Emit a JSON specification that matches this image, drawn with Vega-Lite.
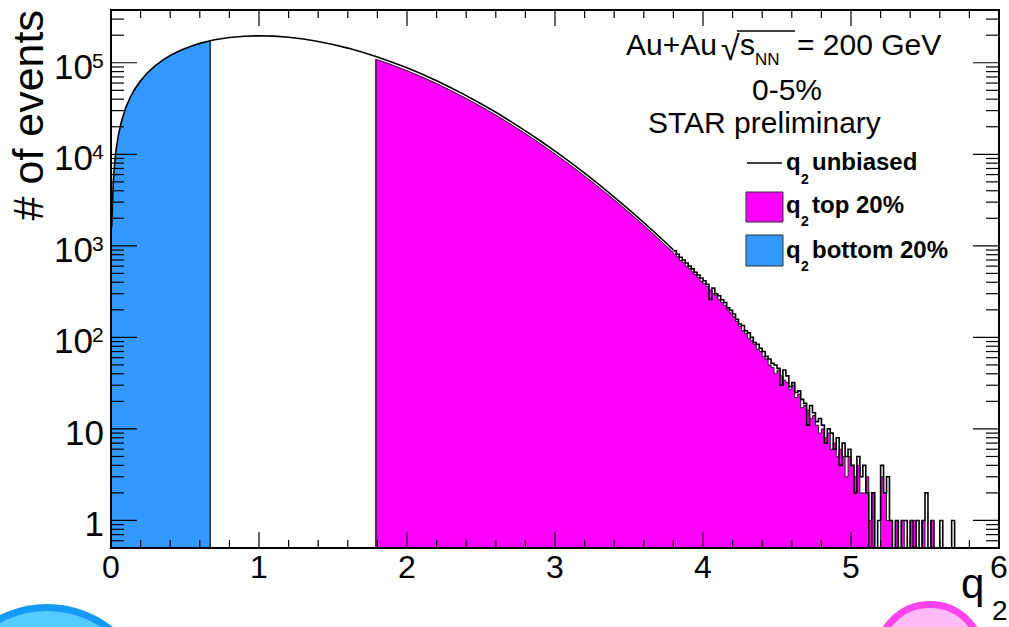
{
"$schema": "https://vega.github.io/schema/vega-lite/v6.json",
"width": 888, "height": 538,
"autosize": {"type": "none"},
"padding": {"left": 111, "top": 10, "right": 10, "bottom": 79},
"background": "white",
"config": {"view": {"stroke": null}, "font": "Liberation Sans", "text": {"font": "Liberation Sans", "color": "black"}, "tick": {"opacity": 1}},
"datasets": {
"curve": [
{"x":0,"u":1625,"b":1625},{"x":0.005,"u":1625,"b":1625},{"x":0.015,"u":4875,"b":4875},{"x":0.025,"u":8124,"b":8124},{"x":0.035,"u":11370,"b":11370},{"x":0.05,"u":16230,"b":16230},{"x":0.07,"u":22690,"b":22690},{"x":0.1,"u":32340,"b":32340},{"x":0.13,"u":41900,"b":41900},{"x":0.16,"u":51340,"b":51340},{"x":0.2,"u":63710,"b":63710},{"x":0.25,"u":78750,"b":78750},{"x":0.3,"u":93210,"b":93210},{"x":0.35,"u":106990,"b":106990},{"x":0.4,"u":120000,"b":120000},{"x":0.45,"u":132170,"b":132170},{"x":0.5,"u":143400,"b":143400},{"x":0.55,"u":153660,"b":153660},{"x":0.6,"u":162880,"b":162880},{"x":0.65,"u":171020,"b":171020},{"x":0.67,"u":173950,"b":173950},
{"x":0.7,"u":178070},{"x":0.8,"u":188800},{"x":0.9,"u":195090},{"x":1.0,"u":197120},{"x":1.1,"u":195220},{"x":1.2,"u":189830},{"x":1.3,"u":181490},{"x":1.4,"u":170770},{"x":1.5,"u":158270},{"x":1.6,"u":144580},{"x":1.7,"u":130250},
{"x":1.79,"u":117220,"t":109000},{"x":1.8,"u":115770,"t":107670},{"x":1.9,"u":101560,"t":94450},{"x":2.0,"u":87970,"t":81810},{"x":2.1,"u":75250,"t":69980},{"x":2.2,"u":63580,"t":59130},{"x":2.3,"u":53070,"t":49350},{"x":2.4,"u":43790,"t":40720},{"x":2.5,"u":35700,"t":33200},{"x":2.6,"u":28770,"t":26760},{"x":2.7,"u":22920,"t":21320},{"x":2.8,"u":18055,"t":16790},{"x":2.9,"u":14060,"t":13080},{"x":3.0,"u":10830,"t":10070},{"x":3.1,"u":8250,"t":7670},{"x":3.2,"u":6215,"t":5780},{"x":3.3,"u":4630,"t":4306},{"x":3.4,"u":3413,"t":3174},{"x":3.5,"u":2488,"t":2314},{"x":3.6,"u":1795,"t":1670},{"x":3.7,"u":1280,"t":1190},{"x":3.8,"u":904,"t":840}
],
"tail": [
{"x":3.8,"u":880,"t":815},{"x":3.82,"u":810,"t":760},{"x":3.84,"u":750,"t":690},{"x":3.86,"u":700,"t":655},{"x":3.88,"u":650,"t":600},{"x":3.9,"u":600,"t":565},{"x":3.92,"u":560,"t":520},{"x":3.94,"u":515,"t":485},{"x":3.96,"u":480,"t":450},{"x":3.98,"u":445,"t":410},
{"x":4.0,"u":415,"t":385},{"x":4.02,"u":380,"t":360},{"x":4.04,"u":260,"t":330},{"x":4.06,"u":345,"t":300},{"x":4.08,"u":300,"t":285},{"x":4.1,"u":285,"t":260},{"x":4.12,"u":258,"t":240},{"x":4.14,"u":240,"t":222},{"x":4.16,"u":210,"t":200},{"x":4.18,"u":198,"t":185},
{"x":4.2,"u":180,"t":168},{"x":4.22,"u":158,"t":150},{"x":4.24,"u":140,"t":132},{"x":4.26,"u":135,"t":118},{"x":4.28,"u":118,"t":110},{"x":4.3,"u":112,"t":98},{"x":4.32,"u":100,"t":92},{"x":4.34,"u":88,"t":84},{"x":4.36,"u":84,"t":74},{"x":4.38,"u":76,"t":70},
{"x":4.4,"u":70,"t":62},{"x":4.42,"u":62,"t":58},{"x":4.44,"u":58,"t":50},{"x":4.46,"u":52,"t":47},{"x":4.48,"u":50,"t":40},{"x":4.5,"u":46,"t":44},{"x":4.52,"u":30,"t":38},{"x":4.54,"u":44,"t":34},{"x":4.56,"u":38,"t":32},{"x":4.58,"u":29,"t":27},
{"x":4.6,"u":32,"t":30},{"x":4.62,"u":25,"t":22},{"x":4.64,"u":26,"t":24},{"x":4.66,"u":21,"t":17},{"x":4.68,"u":19,"t":18},{"x":4.7,"u":11,"t":16},{"x":4.72,"u":18,"t":13},{"x":4.74,"u":15,"t":14},{"x":4.76,"u":12,"t":11},{"x":4.78,"u":13,"t":9},
{"x":4.8,"u":11,"t":10},{"x":4.82,"u":7,"t":8},{"x":4.84,"u":10,"t":9},{"x":4.86,"u":9,"t":6},{"x":4.88,"u":6,"t":7},{"x":4.9,"u":8,"t":5},{"x":4.92,"u":4,"t":6},{"x":4.94,"u":7,"t":5},{"x":4.96,"u":5,"t":3},{"x":4.98,"u":6,"t":5},
{"x":5.0,"u":4,"t":4},{"x":5.02,"u":2,"t":3},{"x":5.04,"u":5,"t":4},{"x":5.06,"u":3,"t":2},{"x":5.08,"u":4,"t":2},{"x":5.1,"u":2,"t":3},{"x":5.12,"u":0,"t":1},{"x":5.14,"u":2,"t":2},{"x":5.16,"u":0,"t":0},{"x":5.18,"u":1,"t":0},
{"x":5.2,"u":4,"t":3},{"x":5.22,"u":2,"t":2},{"x":5.24,"u":3,"t":1},{"x":5.26,"u":1,"t":1},{"x":5.28,"u":0,"t":0},{"x":5.3,"u":1,"t":1},{"x":5.32,"u":0,"t":0},{"x":5.34,"u":1,"t":1},{"x":5.36,"u":1,"t":0},{"x":5.38,"u":0,"t":0},
{"x":5.4,"u":1,"t":1},{"x":5.42,"u":0,"t":1},{"x":5.44,"u":1,"t":0},{"x":5.46,"u":0,"t":0},{"x":5.48,"u":1,"t":1},{"x":5.5,"u":2,"t":0},{"x":5.52,"u":0,"t":0},{"x":5.54,"u":1,"t":1},{"x":5.56,"u":0,"t":0},{"x":5.58,"u":0,"t":0},
{"x":5.6,"u":1,"t":0},{"x":5.62,"u":0,"t":0},{"x":5.64,"u":0,"t":0},{"x":5.66,"u":0,"t":0},{"x":5.68,"u":1,"t":0},{"x":5.7,"u":0,"t":0},{"x":5.72,"u":0,"t":0}
],
"ypow": [{"v":100000,"e":"5"},{"v":10000,"e":"4"},{"v":1000,"e":"3"},{"v":100,"e":"2"}],
"yplain": [{"v":10},{"v":1}],
"xlab": [{"v":0},{"v":1},{"v":2},{"v":3},{"v":4},{"v":5},{"v":6}],
"ymaj": [{"v":1},{"v":10},{"v":100},{"v":1000},{"v":10000},{"v":100000}],
"ymin": [{"v":0.6},{"v":0.7},{"v":0.8},{"v":0.9},{"v":2},{"v":3},{"v":4},{"v":5},{"v":6},{"v":7},{"v":8},{"v":9},{"v":20},{"v":30},{"v":40},{"v":50},{"v":60},{"v":70},{"v":80},{"v":90},{"v":200},{"v":300},{"v":400},{"v":500},{"v":600},{"v":700},{"v":800},{"v":900},{"v":2000},{"v":3000},{"v":4000},{"v":5000},{"v":6000},{"v":7000},{"v":8000},{"v":9000},{"v":20000},{"v":30000},{"v":40000},{"v":50000},{"v":60000},{"v":70000},{"v":80000},{"v":90000},{"v":200000},{"v":300000}],
"xmin": [{"v":0.2},{"v":0.4},{"v":0.6},{"v":0.8},{"v":1.2},{"v":1.4},{"v":1.6},{"v":1.8},{"v":2.2},{"v":2.4},{"v":2.6},{"v":2.8},{"v":3.2},{"v":3.4},{"v":3.6},{"v":3.8},{"v":4.2},{"v":4.4},{"v":4.6},{"v":4.8},{"v":5.2},{"v":5.4},{"v":5.6},{"v":5.8}]
},
"layer": [
{"data":{"name":"curve"},"transform":[{"filter":"isValid(datum.b)"}],
 "mark":{"type":"area","color":"#3399ff","interpolate":"linear"},
 "encoding":{"x":{"field":"x","type":"quantitative","scale":{"domain":[0,6],"nice":false,"zero":false},"axis":null},
  "y":{"field":"b","type":"quantitative","scale":{"type":"log","domain":[0.5,377000],"nice":false,"clamp":true},"axis":null}}},
{"data":{"name":"curve"},"transform":[{"filter":"isValid(datum.t)"}],
 "mark":{"type":"area","color":"#ff00ff","stroke":"#ff00ff","strokeWidth":1,"interpolate":"linear"},
 "encoding":{"x":{"field":"x","type":"quantitative","axis":null},"y":{"field":"t","type":"quantitative","axis":null}}},
{"data":{"name":"tail"},
 "mark":{"type":"area","color":"#ff00ff","interpolate":"step-after"},
 "encoding":{"x":{"field":"x","type":"quantitative","axis":null},"y":{"field":"t","type":"quantitative","axis":null}}},
{"data":{"values":[{}]},"mark":{"type":"rule","color":"#1f2a3a","strokeWidth":1.5},
 "encoding":{"x":{"datum":0.67,"type":"quantitative","axis":null},"y":{"datum":0.5,"type":"quantitative","axis":null},"y2":{"datum":173950}}},
{"data":{"values":[{}]},"mark":{"type":"rule","color":"#222222","strokeWidth":1.5},
 "encoding":{"x":{"datum":1.79,"type":"quantitative","axis":null},"y":{"datum":0.5,"type":"quantitative","axis":null},"y2":{"datum":109000}}},
{"data":{"name":"curve"},"transform":[{"filter":"isValid(datum.t)"}],
 "mark":{"type":"line","color":"#222222","strokeWidth":1,"interpolate":"linear"},
 "encoding":{"x":{"field":"x","type":"quantitative","axis":null},"y":{"field":"t","type":"quantitative","axis":null}}},
{"data":{"name":"tail"},
 "mark":{"type":"line","color":"#222222","strokeWidth":1,"interpolate":"step-after"},
 "encoding":{"x":{"field":"x","type":"quantitative","axis":null},"y":{"field":"t","type":"quantitative","axis":null}}},
{"data":{"name":"curve"},
 "mark":{"type":"line","color":"black","strokeWidth":1.6,"interpolate":"linear"},
 "encoding":{"x":{"field":"x","type":"quantitative","axis":null},"y":{"field":"u","type":"quantitative","axis":null}}},
{"data":{"name":"tail"},
 "mark":{"type":"line","color":"black","strokeWidth":1.6,"interpolate":"step-after"},
 "encoding":{"x":{"field":"x","type":"quantitative","axis":null},"y":{"field":"u","type":"quantitative","axis":null}}},
{"data":{"name":"ymaj"},"mark":{"type":"tick","orient":"horizontal","size":52,"thickness":1.2,"color":"black","clip":true},
 "encoding":{"x":{"datum":0,"type":"quantitative","axis":null},"y":{"field":"v","type":"quantitative","axis":null}}},
{"data":{"name":"ymin"},"mark":{"type":"tick","orient":"horizontal","size":26,"thickness":1.2,"color":"black","clip":true},
 "encoding":{"x":{"datum":0,"type":"quantitative","axis":null},"y":{"field":"v","type":"quantitative","axis":null}}},
{"data":{"name":"ymaj"},"mark":{"type":"tick","orient":"horizontal","size":52,"thickness":1.2,"color":"black","clip":true},
 "encoding":{"x":{"datum":6,"type":"quantitative","axis":null},"y":{"field":"v","type":"quantitative","axis":null}}},
{"data":{"name":"ymin"},"mark":{"type":"tick","orient":"horizontal","size":26,"thickness":1.2,"color":"black","clip":true},
 "encoding":{"x":{"datum":6,"type":"quantitative","axis":null},"y":{"field":"v","type":"quantitative","axis":null}}},
{"data":{"name":"xlab"},"mark":{"type":"tick","orient":"vertical","size":32,"thickness":1.2,"color":"black","clip":true},
 "encoding":{"x":{"field":"v","type":"quantitative","axis":null},"y":{"datum":0.5,"type":"quantitative","axis":null}}},
{"data":{"name":"xmin"},"mark":{"type":"tick","orient":"vertical","size":16,"thickness":1.2,"color":"black","clip":true},
 "encoding":{"x":{"field":"v","type":"quantitative","axis":null},"y":{"datum":0.5,"type":"quantitative","axis":null}}},
{"data":{"name":"xlab"},"mark":{"type":"tick","orient":"vertical","size":32,"thickness":1.2,"color":"black","clip":true},
 "encoding":{"x":{"field":"v","type":"quantitative","axis":null},"y":{"datum":377000,"type":"quantitative","axis":null}}},
{"data":{"name":"xmin"},"mark":{"type":"tick","orient":"vertical","size":16,"thickness":1.2,"color":"black","clip":true},
 "encoding":{"x":{"field":"v","type":"quantitative","axis":null},"y":{"datum":377000,"type":"quantitative","axis":null}}},
{"data":{"values":[{}]},"mark":{"type":"rect","fill":null,"fillOpacity":0,"stroke":"black","strokeWidth":2},
 "encoding":{"x":{"datum":0,"type":"quantitative","axis":null},"x2":{"datum":6},"y":{"datum":0.5,"type":"quantitative","axis":null},"y2":{"datum":377000}}},
{"data":{"values":[{}]},"mark":{"type":"text","text":"# of events","angle":270,"align":"right","baseline":"alphabetic","fontSize":43},
 "encoding":{"x":{"datum":-0.4595,"type":"quantitative","axis":null},"y":{"datum":377000,"type":"quantitative","axis":null}}},
{"data":{"name":"ypow"},"mark":{"type":"text","text":"10","align":"right","baseline":"alphabetic","dx":-18,"dy":16,"fontSize":35},
 "encoding":{"x":{"datum":0,"type":"quantitative","axis":null},"y":{"field":"v","type":"quantitative","axis":null}}},
{"data":{"name":"ypow"},"mark":{"type":"text","align":"left","baseline":"alphabetic","dx":-19,"dy":5,"fontSize":21},
 "encoding":{"x":{"datum":0,"type":"quantitative","axis":null},"y":{"field":"v","type":"quantitative","axis":null},"text":{"field":"e"}}},
{"data":{"name":"yplain"},"mark":{"type":"text","align":"right","baseline":"alphabetic","dx":-7,"dy":16,"fontSize":35},
 "encoding":{"x":{"datum":0,"type":"quantitative","axis":null},"y":{"field":"v","type":"quantitative","axis":null},"text":{"field":"v","type":"quantitative","format":"d"}}},
{"data":{"name":"xlab"},"mark":{"type":"text","align":"center","baseline":"alphabetic","dy":30,"fontSize":32},
 "encoding":{"x":{"field":"v","type":"quantitative","axis":null},"y":{"datum":0.5,"type":"quantitative","axis":null},"text":{"field":"v","type":"quantitative","format":"d"}}},
{"data":{"values":[{}]},"mark":{"type":"text","text":"q","align":"left","baseline":"alphabetic","dx":-38,"dy":50,"fontSize":42},
 "encoding":{"x":{"datum":6,"type":"quantitative","axis":null},"y":{"datum":0.5,"type":"quantitative","axis":null}}},
{"data":{"values":[{}]},"mark":{"type":"text","text":"2","align":"left","baseline":"alphabetic","dx":-7,"dy":72,"fontSize":28},
 "encoding":{"x":{"datum":6,"type":"quantitative","axis":null},"y":{"datum":0.5,"type":"quantitative","axis":null}}},
{"data":{"values":[{}]},"mark":{"type":"point","shape":"circle","size":42000,"filled":true,"fill":"#55ccff","stroke":"#1499f5","strokeWidth":7,"opacity":1},
 "encoding":{"x":{"datum":-0.4324,"type":"quantitative","axis":null},"y":{"datum":0.5,"type":"quantitative","axis":null},"yOffset":{"value":162}}},
{"data":{"values":[{}]},"mark":{"type":"point","shape":"circle","size":11000,"filled":true,"fill":"#ffbbf6","stroke":"#ff44ee","strokeWidth":7,"opacity":1},
 "encoding":{"x":{"datum":5.5338,"type":"quantitative","axis":null},"y":{"datum":0.5,"type":"quantitative","axis":null},"yOffset":{"value":109}}},
{"data":{"values":[{}]},"mark":{"type":"text","text":"Au+Au","align":"left","baseline":"alphabetic","fontSize":30},
 "encoding":{"x":{"datum":3.4797,"type":"quantitative","axis":null},"y":{"datum":121500,"type":"quantitative","axis":null}}},
{"data":{"values":[{}]},"mark":{"type":"text","text":"√","align":"left","baseline":"alphabetic","fontSize":34},
 "encoding":{"x":{"datum":4.1216,"type":"quantitative","axis":null},"y":{"datum":107000,"type":"quantitative","axis":null}}},
{"data":{"values":[{}]},"mark":{"type":"rule","color":"black","strokeWidth":1.5},
 "encoding":{"x":{"datum":4.2297,"type":"quantitative","axis":null},"x2":{"datum":4.6216},"y":{"datum":222300,"type":"quantitative","axis":null}}},
{"data":{"values":[{}]},"mark":{"type":"text","text":"s","align":"left","baseline":"alphabetic","fontSize":30},
 "encoding":{"x":{"datum":4.25,"type":"quantitative","axis":null},"y":{"datum":121500,"type":"quantitative","axis":null}}},
{"data":{"values":[{}]},"mark":{"type":"text","text":"NN","align":"left","baseline":"alphabetic","fontSize":17},
 "encoding":{"x":{"datum":4.3514,"type":"quantitative","axis":null},"y":{"datum":94520,"type":"quantitative","axis":null}}},
{"data":{"values":[{}]},"mark":{"type":"text","text":"= 200 GeV","align":"left","baseline":"alphabetic","fontSize":30},
 "encoding":{"x":{"datum":4.6351,"type":"quantitative","axis":null},"y":{"datum":121500,"type":"quantitative","axis":null}}},
{"data":{"values":[{}]},"mark":{"type":"text","text":"0-5%","align":"center","baseline":"alphabetic","fontSize":30},
 "encoding":{"x":{"datum":4.5676,"type":"quantitative","axis":null},"y":{"datum":39180,"type":"quantitative","axis":null}}},
{"data":{"values":[{}]},"mark":{"type":"text","text":"STAR preliminary","align":"left","baseline":"alphabetic","fontSize":30},
 "encoding":{"x":{"datum":3.6284,"type":"quantitative","axis":null},"y":{"datum":17080,"type":"quantitative","axis":null}}},
{"data":{"values":[{}]},"mark":{"type":"rule","color":"black","strokeWidth":1.5},
 "encoding":{"x":{"datum":4.2973,"type":"quantitative","axis":null},"x2":{"datum":4.5338},"y":{"datum":8033,"type":"quantitative","axis":null}}},
{"data":{"values":[{}]},"mark":{"type":"rect","fill":"#ff00ff","stroke":"#333333","strokeWidth":1},
 "encoding":{"x":{"datum":4.2905,"type":"quantitative","axis":null},"x2":{"datum":4.5405},"y":{"datum":3873,"type":"quantitative","axis":null},"y2":{"datum":1821}}},
{"data":{"values":[{}]},"mark":{"type":"rect","fill":"#3399ff","stroke":"#333333","strokeWidth":1},
 "encoding":{"x":{"datum":4.2905,"type":"quantitative","axis":null},"x2":{"datum":4.5405},"y":{"datum":1313,"type":"quantitative","axis":null},"y2":{"datum":602}}},
{"data":{"values":[{}]},"mark":{"type":"text","text":"q","align":"left","baseline":"alphabetic","fontSize":24,"fontWeight":"bold"},
 "encoding":{"x":{"datum":4.5608,"type":"quantitative","axis":null},"y":{"datum":6737,"type":"quantitative","axis":null}}},
{"data":{"values":[{}]},"mark":{"type":"text","text":"2","align":"left","baseline":"alphabetic","fontSize":14,"fontWeight":"bold"},
 "encoding":{"x":{"datum":4.6622,"type":"quantitative","axis":null},"y":{"datum":4738,"type":"quantitative","axis":null}}},
{"data":{"values":[{}]},"mark":{"type":"text","text":"unbiased","align":"left","baseline":"alphabetic","fontSize":24,"fontWeight":"bold"},
 "encoding":{"x":{"datum":4.7365,"type":"quantitative","axis":null},"y":{"datum":6737,"type":"quantitative","axis":null}}},
{"data":{"values":[{}]},"mark":{"type":"text","text":"q","align":"left","baseline":"alphabetic","fontSize":24,"fontWeight":"bold"},
 "encoding":{"x":{"datum":4.5608,"type":"quantitative","axis":null},"y":{"datum":2284,"type":"quantitative","axis":null}}},
{"data":{"values":[{}]},"mark":{"type":"text","text":"2","align":"left","baseline":"alphabetic","fontSize":14,"fontWeight":"bold"},
 "encoding":{"x":{"datum":4.6622,"type":"quantitative","axis":null},"y":{"datum":1647,"type":"quantitative","axis":null}}},
{"data":{"values":[{}]},"mark":{"type":"text","text":"top 20%","align":"left","baseline":"alphabetic","fontSize":24,"fontWeight":"bold"},
 "encoding":{"x":{"datum":4.7365,"type":"quantitative","axis":null},"y":{"datum":2284,"type":"quantitative","axis":null}}},
{"data":{"values":[{}]},"mark":{"type":"text","text":"q","align":"left","baseline":"alphabetic","fontSize":24,"fontWeight":"bold"},
 "encoding":{"x":{"datum":4.5608,"type":"quantitative","axis":null},"y":{"datum":736,"type":"quantitative","axis":null}}},
{"data":{"values":[{}]},"mark":{"type":"text","text":"2","align":"left","baseline":"alphabetic","fontSize":14,"fontWeight":"bold"},
 "encoding":{"x":{"datum":4.6622,"type":"quantitative","axis":null},"y":{"datum":531,"type":"quantitative","axis":null}}},
{"data":{"values":[{}]},"mark":{"type":"text","text":"bottom 20%","align":"left","baseline":"alphabetic","fontSize":24,"fontWeight":"bold"},
 "encoding":{"x":{"datum":4.7365,"type":"quantitative","axis":null},"y":{"datum":736,"type":"quantitative","axis":null}}}
]
}
